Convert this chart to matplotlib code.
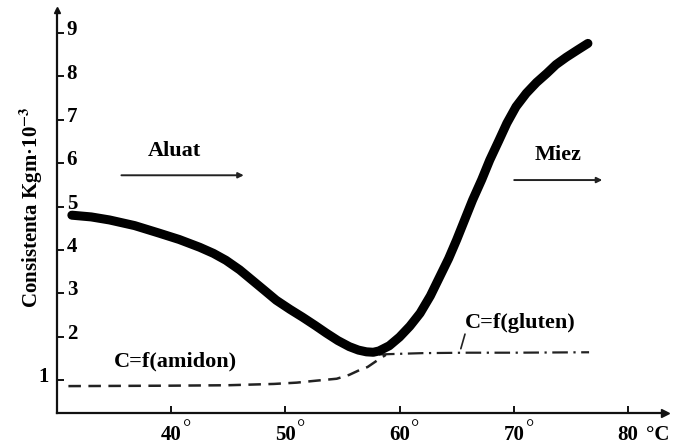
import matplotlib
matplotlib.use("Agg")
import matplotlib.pyplot as plt

plt.rcParams["font.family"] = ["Liberation Serif", "DejaVu Serif"]
plt.rcParams["font.weight"] = "bold"
plt.rcParams["mathtext.fontset"] = "stix"

# dough consistency curve (Kgm x 10^-3) against temperature (deg C)
temp_c = [31.3, 33.0, 34.6, 36.8, 38.9, 40.7, 42.5, 43.7, 44.8, 46.0, 47.1,
          48.2, 49.2, 50.4, 51.5, 52.6, 53.6, 54.6, 55.6, 56.4, 57.1, 57.7,
          58.2, 59.1, 60.0, 60.9, 61.8, 62.7, 63.5, 64.3, 65.0, 65.7, 66.4,
          67.2, 67.9, 68.7, 69.4, 70.2, 71.1, 72.0, 72.9, 73.7, 74.6, 75.6,
          76.5]
consistency = [4.80, 4.76, 4.69, 4.56, 4.39, 4.24, 4.06, 3.92, 3.76, 3.54, 3.30,
               3.06, 2.84, 2.63, 2.45, 2.26, 2.08, 1.91, 1.77, 1.69, 1.65, 1.64,
               1.67, 1.79, 1.99, 2.24, 2.54, 2.94, 3.37, 3.80, 4.23, 4.69, 5.15,
               5.62, 6.07, 6.52, 6.92, 7.30, 7.61, 7.86, 8.07, 8.27, 8.44, 8.61,
               8.76]

# starch contribution
amidon_t = [31.0, 40.0, 45.0, 49.0, 51.0, 52.5, 54.5, 55.6, 56.5, 57.2, 58.2, 58.8]
amidon_c = [0.86, 0.87, 0.88, 0.91, 0.94, 0.98, 1.03, 1.12, 1.23, 1.30, 1.48, 1.58]

# gluten contribution
gluten_t = [58.2, 62.0, 66.0, 70.0, 76.6]
gluten_c = [1.59, 1.62, 1.63, 1.63, 1.64]

x_ticks = [40, 50, 60, 70, 80]
y_ticks = [1, 2, 3, 4, 5, 6, 7, 8, 9]

FS = 15

fig = plt.figure(figsize=(6.79, 4.47), dpi=100)
ax = fig.add_axes([57 / 679, 34 / 447, 608 / 679, 403 / 447])
ax.set_xlim(30, 83.25)
ax.set_ylim(0.24, 9.53)

for side in ("top", "right"):
    ax.spines[side].set_visible(False)
for side in ("left", "bottom"):
    ax.spines[side].set_linewidth(1.6)
    ax.spines[side].set_color("#111111")

ax.set_xticks(x_ticks)
ax.set_yticks(y_ticks)
ax.tick_params(direction="in", length=5, width=1.4, labelbottom=False,
               labelleft=False, colors="#111111")

# axis arrow heads
ax.plot(1, 0, marker=">", markersize=6, color="#111111",
        transform=ax.transAxes, clip_on=False)
ax.plot(0, 1, marker="^", markersize=5, color="#111111",
        transform=ax.transAxes, clip_on=False)

# tick labels drawn by hand: y labels sit inside the axis, except "1"
xt = ax.get_xaxis_transform()
yt = ax.get_yaxis_transform()
for t in x_ticks:
    ax.annotate(str(t), (t, 0), xycoords=xt, xytext=(0, -16),
                textcoords="offset points", ha="center", va="center",
                fontsize=FS, fontweight="bold")
    if t != 80:
        ax.annotate("°", (t, 0), xycoords=xt, xytext=(8.5, -12),
                    textcoords="offset points", ha="left", va="center",
                    fontsize=FS, fontweight="normal")
ax.annotate("°C", (80, 0), xycoords=xt, xytext=(13, -16),
            textcoords="offset points", ha="left", va="center",
            fontsize=FS, fontweight="bold")

for v in y_ticks:
    if v == 1:
        ax.annotate(str(v), (0, v), xycoords=yt, xytext=(-6, 2),
                    textcoords="offset points", ha="right", va="center",
                    fontsize=FS, fontweight="bold")
    else:
        ax.annotate(str(v), (0, v), xycoords=yt, xytext=(7, 2),
                    textcoords="offset points", ha="left", va="center",
                    fontsize=FS, fontweight="bold")

# curves
ax.plot(amidon_t, amidon_c, color="#222222", linewidth=1.8,
        dashes=(5, 3), clip_on=False)
ax.plot(gluten_t, gluten_c, color="#222222", linewidth=1.6,
        dashes=(7, 2.5, 1, 2.5), clip_on=False)
ax.plot(temp_c, consistency, color="black", linewidth=6.5,
        solid_capstyle="round", solid_joinstyle="round")

# phase labels with arrows
ax.annotate("", xy=(46.6, 5.72), xytext=(35.4, 5.72),
            arrowprops=dict(arrowstyle="-|>", lw=1.4, color="#222222",
                            mutation_scale=8))
ax.text(40.3, 6.29, "Aluat", ha="center", va="center", fontsize=FS + 1,
        fontweight="bold")
ax.annotate("", xy=(78.0, 5.61), xytext=(69.8, 5.61),
            arrowprops=dict(arrowstyle="-|>", lw=1.4, color="#222222",
                            mutation_scale=8))
ax.text(73.9, 6.19, "Miez", ha="center", va="center", fontsize=FS + 1,
        fontweight="bold")

ax.text(40.4, 1.42, "C=f(amidon)", ha="center", va="center", fontsize=FS + 1,
        fontweight="bold")
ax.text(70.6, 2.31, "C=f(gluten)", ha="center", va="center", fontsize=FS + 1,
        fontweight="bold")
ax.annotate("", xy=(65.3, 1.66), xytext=(65.8, 2.12),
            arrowprops=dict(arrowstyle="-", lw=1.2, color="#222222"))

fig.text(31 / 679, 1 - 207 / 447, "Consistenta Kgm·10$^{-3}$", rotation=90,
         ha="center", va="center", fontsize=FS, fontweight="bold")

fig.savefig("out.png", dpi=100)
